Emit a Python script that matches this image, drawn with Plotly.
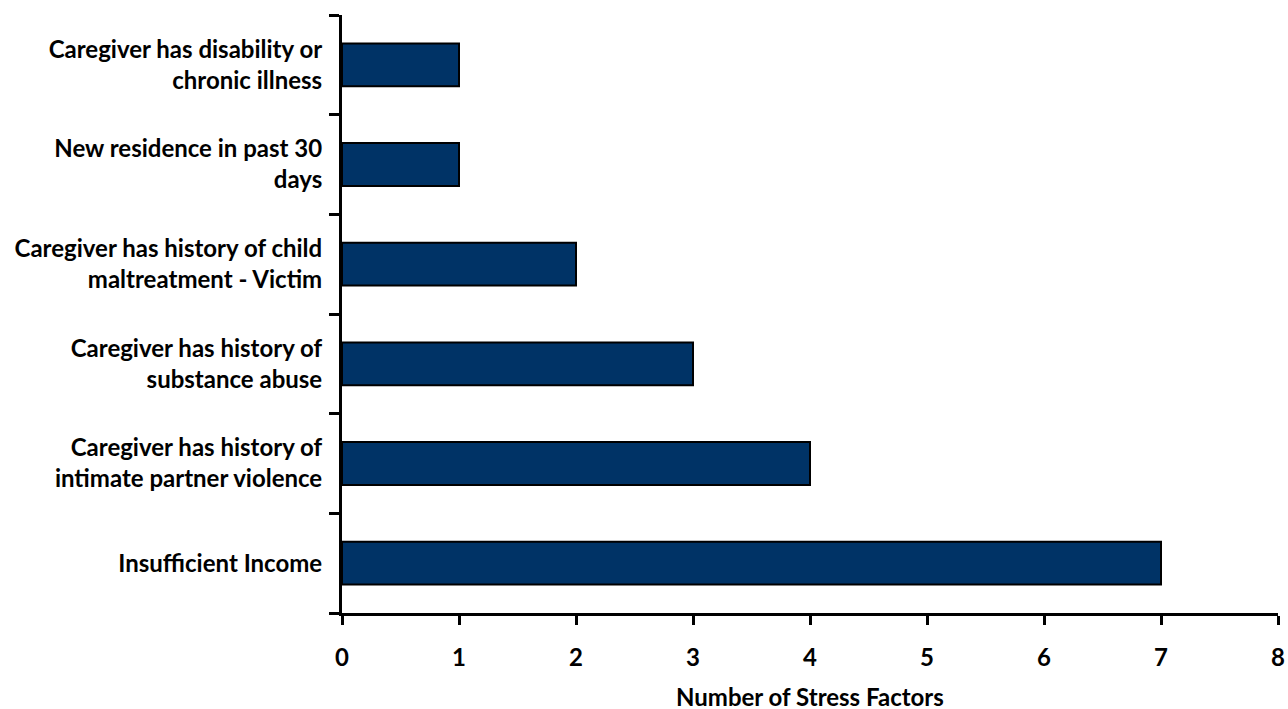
import plotly.graph_objects as go

categories = [
    "Insufficient Income",
    "Caregiver has history of<br>intimate partner violence",
    "Caregiver has history of<br>substance abuse",
    "Caregiver has history of child<br>maltreatment - Victim",
    "New residence in past 30<br>days",
    "Caregiver has disability or<br>chronic illness",
]
values = [7, 4, 3, 2, 1, 1]
x_ticks = [0, 1, 2, 3, 4, 5, 6, 7, 8]
x_title = "Number of Stress Factors"

FONT = "Lato"
FS = 24

fig = go.Figure(
    go.Bar(
        x=values,
        y=categories,
        orientation="h",
        marker=dict(color="#003366", line=dict(color="black", width=2)),
    )
)

fig.update_layout(
    width=1288,
    height=709,
    margin=dict(l=342, r=10, t=15, b=96),
    paper_bgcolor="white",
    plot_bgcolor="white",
    bargap=0.57,
    showlegend=False,
    font=dict(family=FONT, size=FS, color="black"),
)

fig.add_annotation(
    text="<b>" + x_title + "</b>",
    xref="paper",
    yref="paper",
    x=0.5,
    y=0,
    xanchor="center",
    yanchor="middle",
    yshift=-83,
    showarrow=False,
    font=dict(family=FONT, size=FS, color="black"),
)

fig.update_xaxes(
    range=[0, 8],
    tickvals=x_ticks,
    ticks="outside",
    ticklen=9,
    tickwidth=3,
    tickcolor="black",
    showline=True,
    linewidth=3,
    linecolor="black",
    showgrid=False,
    zeroline=False,
    automargin=False,
    tickfont=dict(family=FONT, size=FS, color="black", weight="bold"),
    ticklabelstandoff=12,
)

fig.update_yaxes(
    type="category",
    categoryorder="array",
    categoryarray=categories,
    tickson="boundaries",
    ticks="outside",
    ticklen=10,
    tickwidth=3,
    tickcolor="black",
    showline=True,
    linewidth=3,
    linecolor="black",
    showgrid=False,
    automargin=False,
    tickfont=dict(family=FONT, size=FS, color="black", weight="bold"),
    ticklabelstandoff=12,
)

fig.write_html(
    "out.html",
    config={"displayModeBar": False},
    post_script="document.body.style.margin='0';document.body.style.overflow='hidden';",
)
